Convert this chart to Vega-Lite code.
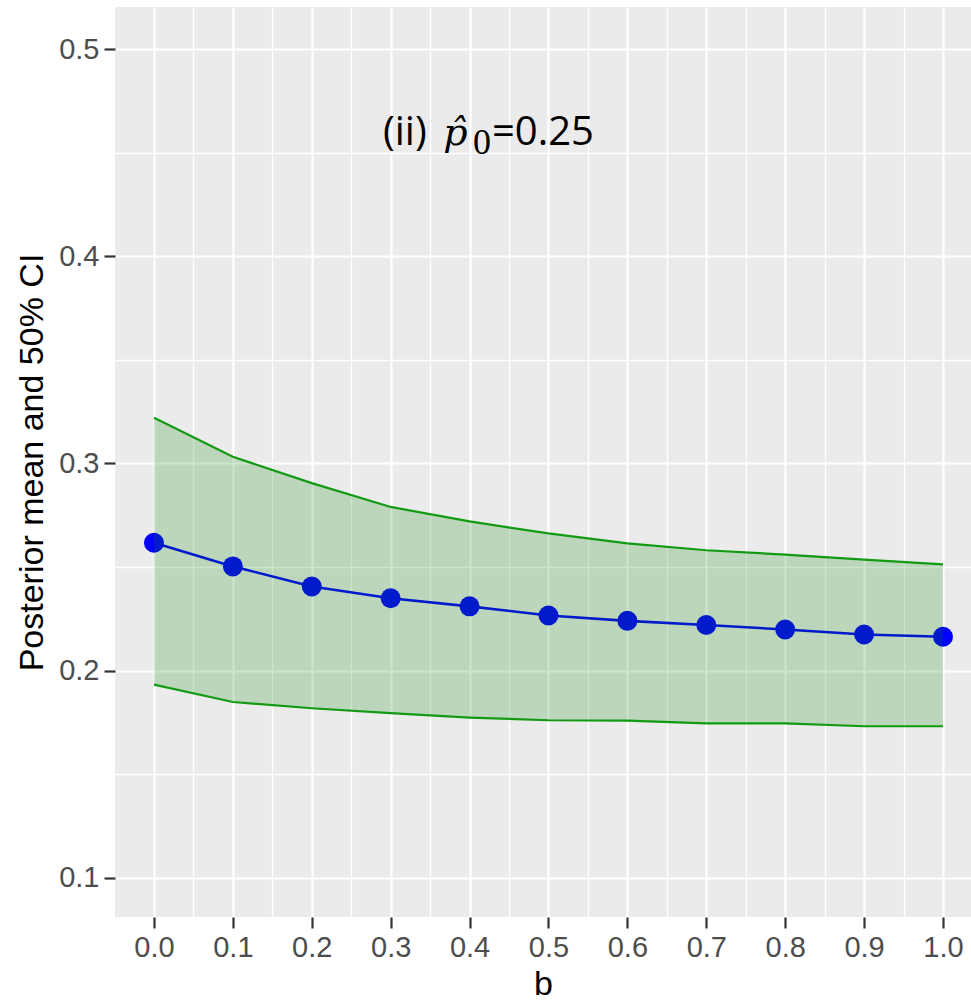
{
  "$schema": "https://vega.github.io/schema/vega-lite/v6.json",
  "autosize": "none",
  "padding": {"left": 115, "top": 7, "right": 0, "bottom": 87},
  "width": 856,
  "height": 910,
  "background": "white",
  "config": {
    "view": {"fill": "#EBEBEB", "stroke": null},
    "axis": {
      "domain": false,
      "gridColor": "white",
      "tickColor": "#333333",
      "tickWidth": 2.2,
      "tickSize": 11,
      "labelFont": "Liberation Sans",
      "labelFontSize": 29,
      "labelColor": "#4D4D4D",
      "titleFont": "Liberation Sans",
      "titleFontSize": 34,
      "titleFontWeight": "normal",
      "titleColor": "#000000"
    }
  },
  "data": {
    "values": [
      {"b": 0.0, "mean": 0.2617, "lower": 0.1932, "upper": 0.3221},
      {"b": 0.1, "mean": 0.2503, "lower": 0.1848, "upper": 0.3032},
      {"b": 0.2, "mean": 0.2406, "lower": 0.1818, "upper": 0.2905},
      {"b": 0.3, "mean": 0.2349, "lower": 0.1794, "upper": 0.2790},
      {"b": 0.4, "mean": 0.2310, "lower": 0.1773, "upper": 0.2720},
      {"b": 0.5, "mean": 0.2266, "lower": 0.1760, "upper": 0.2662},
      {"b": 0.6, "mean": 0.2240, "lower": 0.1758, "upper": 0.2614},
      {"b": 0.7, "mean": 0.2220, "lower": 0.1745, "upper": 0.2581},
      {"b": 0.8, "mean": 0.2198, "lower": 0.1745, "upper": 0.2560},
      {"b": 0.9, "mean": 0.2174, "lower": 0.1731, "upper": 0.2536},
      {"b": 1.0, "mean": 0.2163, "lower": 0.1731, "upper": 0.2513}
    ]
  },
  "layer": [
    {
      "mark": {"type": "line", "color": "#0000FF", "strokeWidth": 2.6},
      "encoding": {
        "x": {
          "field": "b", "type": "quantitative",
          "scale": {"domain": [-0.0494, 1.0355], "nice": false, "zero": false},
          "axis": {
            "title": "b",
            "values": [0, 0.05, 0.1, 0.15, 0.2, 0.25, 0.3, 0.35, 0.4, 0.45, 0.5, 0.55, 0.6, 0.65, 0.7, 0.75, 0.8, 0.85, 0.9, 0.95, 1.0],
            "labelExpr": "abs(datum.value*10 - round(datum.value*10)) < 0.01 ? format(datum.value, '.1f') : ''",
            "tickOpacity": {"condition": {"test": "abs(datum.value*10 - round(datum.value*10)) < 0.01", "value": 1}, "value": 0},
            "gridWidth": {"condition": {"test": "abs(datum.value*10 - round(datum.value*10)) < 0.01", "value": 2.2}, "value": 1.3},
            "labelPadding": 5,
            "titlePadding": 5
          }
        },
        "y": {
          "field": "mean", "type": "quantitative",
          "scale": {"domain": [0.081, 0.5204], "nice": false, "zero": false},
          "axis": {
            "title": "Posterior mean and 50% CI",
            "values": [0.1, 0.15, 0.2, 0.25, 0.3, 0.35, 0.4, 0.45, 0.5],
            "labelExpr": "abs(datum.value*10 - round(datum.value*10)) < 0.01 ? format(datum.value, '.1f') : ''",
            "tickOpacity": {"condition": {"test": "abs(datum.value*10 - round(datum.value*10)) < 0.01", "value": 1}, "value": 0},
            "gridWidth": {"condition": {"test": "abs(datum.value*10 - round(datum.value*10)) < 0.01", "value": 2.2}, "value": 1.3},
            "labelPadding": 5,
            "titlePadding": 9
          }
        }
      }
    },
    {
      "mark": {"type": "point", "shape": "circle", "filled": true, "color": "#0000FF", "opacity": 1, "size": 400},
      "encoding": {
        "x": {"field": "b", "type": "quantitative"},
        "y": {"field": "mean", "type": "quantitative"}
      }
    },
    {
      "mark": {"type": "area", "color": "#008000", "opacity": 0.2},
      "encoding": {
        "x": {"field": "b", "type": "quantitative"},
        "y": {"field": "lower", "type": "quantitative"},
        "y2": {"field": "upper"}
      }
    },
    {
      "mark": {"type": "line", "color": "#129a12", "strokeWidth": 2.2},
      "encoding": {
        "x": {"field": "b", "type": "quantitative"},
        "y": {"field": "upper", "type": "quantitative"}
      }
    },
    {
      "mark": {"type": "line", "color": "#129a12", "strokeWidth": 2.2},
      "encoding": {
        "x": {"field": "b", "type": "quantitative"},
        "y": {"field": "lower", "type": "quantitative"}
      }
    },
    {
      "data": {"values": [{"label": "(ii)"}]},
      "mark": {"type": "text", "font": "Open Sans", "fontSize": 40, "color": "#000000", "align": "left", "baseline": "alphabetic"},
      "encoding": {
        "x": {"datum": 0.2902, "type": "quantitative"},
        "y": {"datum": 0.4538, "type": "quantitative"},
        "text": {"field": "label"}
      }
    },
    {
      "data": {"values": [{"label": "p̂"}]},
      "mark": {"type": "text", "font": "DejaVu Serif", "fontStyle": "italic", "fontSize": 38, "color": "#000000", "align": "left", "baseline": "alphabetic"},
      "encoding": {
        "x": {"datum": 0.3665, "type": "quantitative"},
        "y": {"datum": 0.4538, "type": "quantitative"},
        "text": {"field": "label"}
      }
    },
    {
      "data": {"values": [{"label": "0"}]},
      "mark": {"type": "text", "font": "Liberation Serif", "fontSize": 36, "color": "#000000", "align": "left", "baseline": "alphabetic"},
      "encoding": {
        "x": {"datum": 0.4043, "type": "quantitative"},
        "y": {"datum": 0.4494, "type": "quantitative"},
        "text": {"field": "label"}
      }
    },
    {
      "data": {"values": [{"label": "=0.25"}]},
      "mark": {"type": "text", "font": "Open Sans", "fontSize": 40, "color": "#000000", "align": "left", "baseline": "alphabetic"},
      "encoding": {
        "x": {"datum": 0.4284, "type": "quantitative"},
        "y": {"datum": 0.4538, "type": "quantitative"},
        "text": {"field": "label"}
      }
    }
  ]
}
